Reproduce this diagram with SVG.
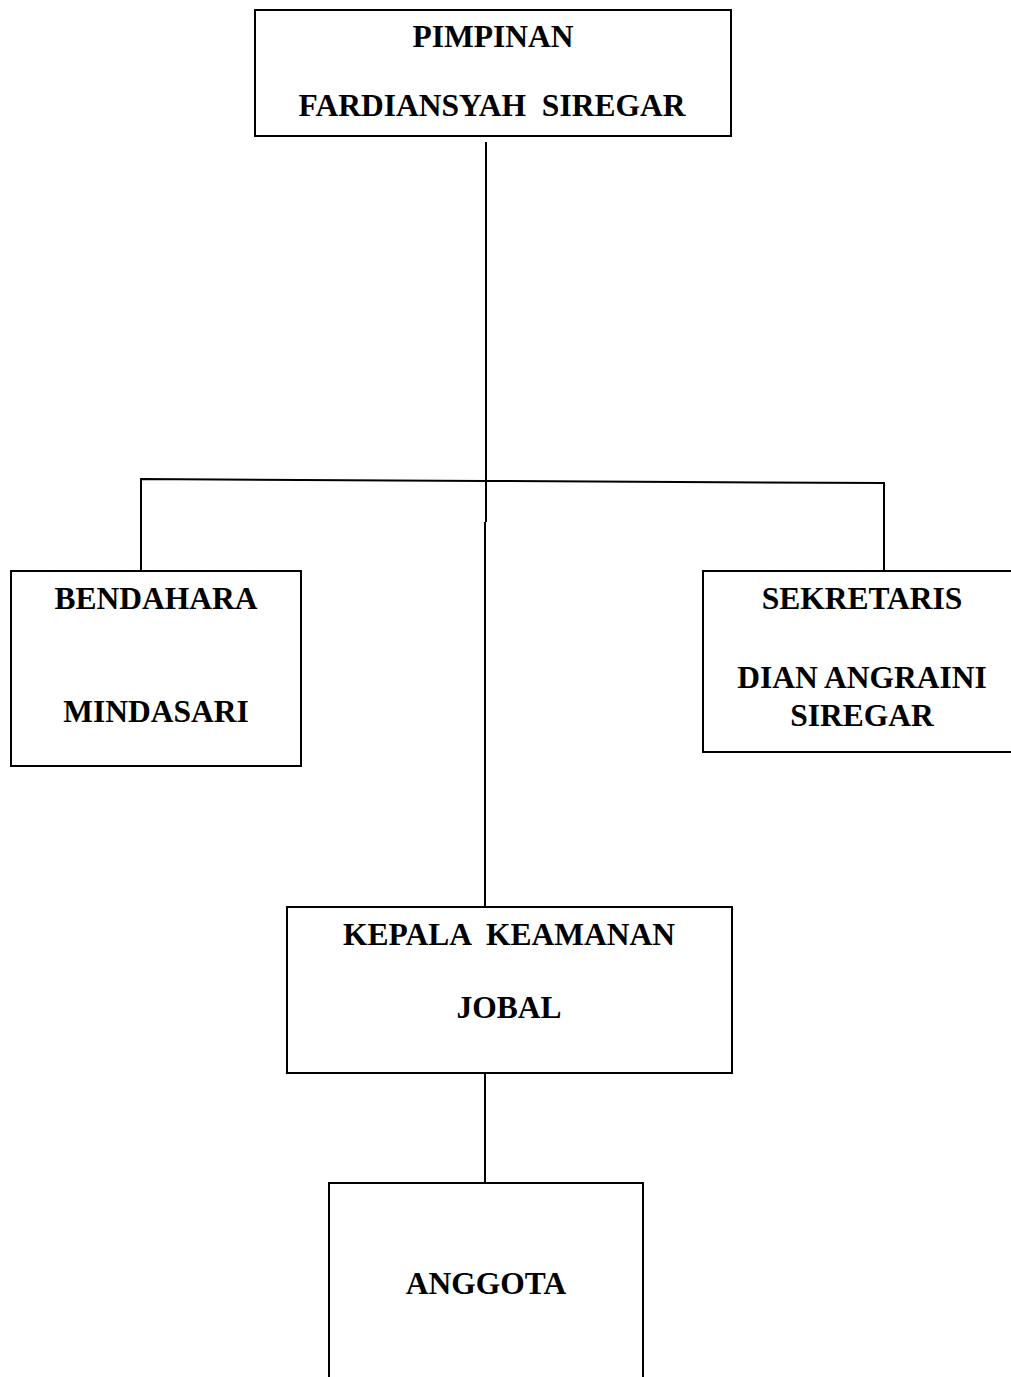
<svg xmlns="http://www.w3.org/2000/svg" width="1011" height="1377" viewBox="0 0 1011 1377">
<style>
.box{fill:#fff;stroke:#000;stroke-width:2}
.t{font-family:"Liberation Serif","Times New Roman",serif;font-weight:bold;font-size:31.5px;fill:#000;text-anchor:middle}
.c{stroke:#000;stroke-width:2;fill:none}
</style>
<rect width="1011" height="1377" fill="#fff"/>
<g id="connectors">
<line class="c" x1="486" y1="142" x2="486" y2="522"/>
<line class="c" x1="485" y1="522" x2="485" y2="907"/>
<polyline class="c" points="141,571 141,479 486,481 884,483 884,571"/>
<line class="c" x1="485" y1="1073" x2="485" y2="1183"/>
</g>
<g id="pimpinan">
<rect class="box" x="255" y="10" width="476" height="126"/>
<text class="t" x="493" y="47">PIMPINAN</text>
<text class="t" x="492" y="116" xml:space="preserve">FARDIANSYAH  SIREGAR</text>
</g>
<g id="bendahara">
<rect class="box" x="11" y="571" width="290" height="195"/>
<text class="t" x="156" y="609">BENDAHARA</text>
<text class="t" x="156" y="722">MINDASARI</text>
</g>
<g id="sekretaris">
<rect class="box" x="703" y="571" width="320" height="181"/>
<text class="t" x="862" y="609">SEKRETARIS</text>
<text class="t" x="862" y="688">DIAN ANGRAINI</text>
<text class="t" x="862" y="726">SIREGAR</text>
</g>
<g id="kepala">
<rect class="box" x="287" y="907" width="445" height="166"/>
<text class="t" x="509" y="945" xml:space="preserve">KEPALA  KEAMANAN</text>
<text class="t" x="509" y="1018">JOBAL</text>
</g>
<g id="anggota">
<rect class="box" x="329" y="1183" width="314" height="220"/>
<text class="t" x="486" y="1294">ANGGOTA</text>
</g>
</svg>
